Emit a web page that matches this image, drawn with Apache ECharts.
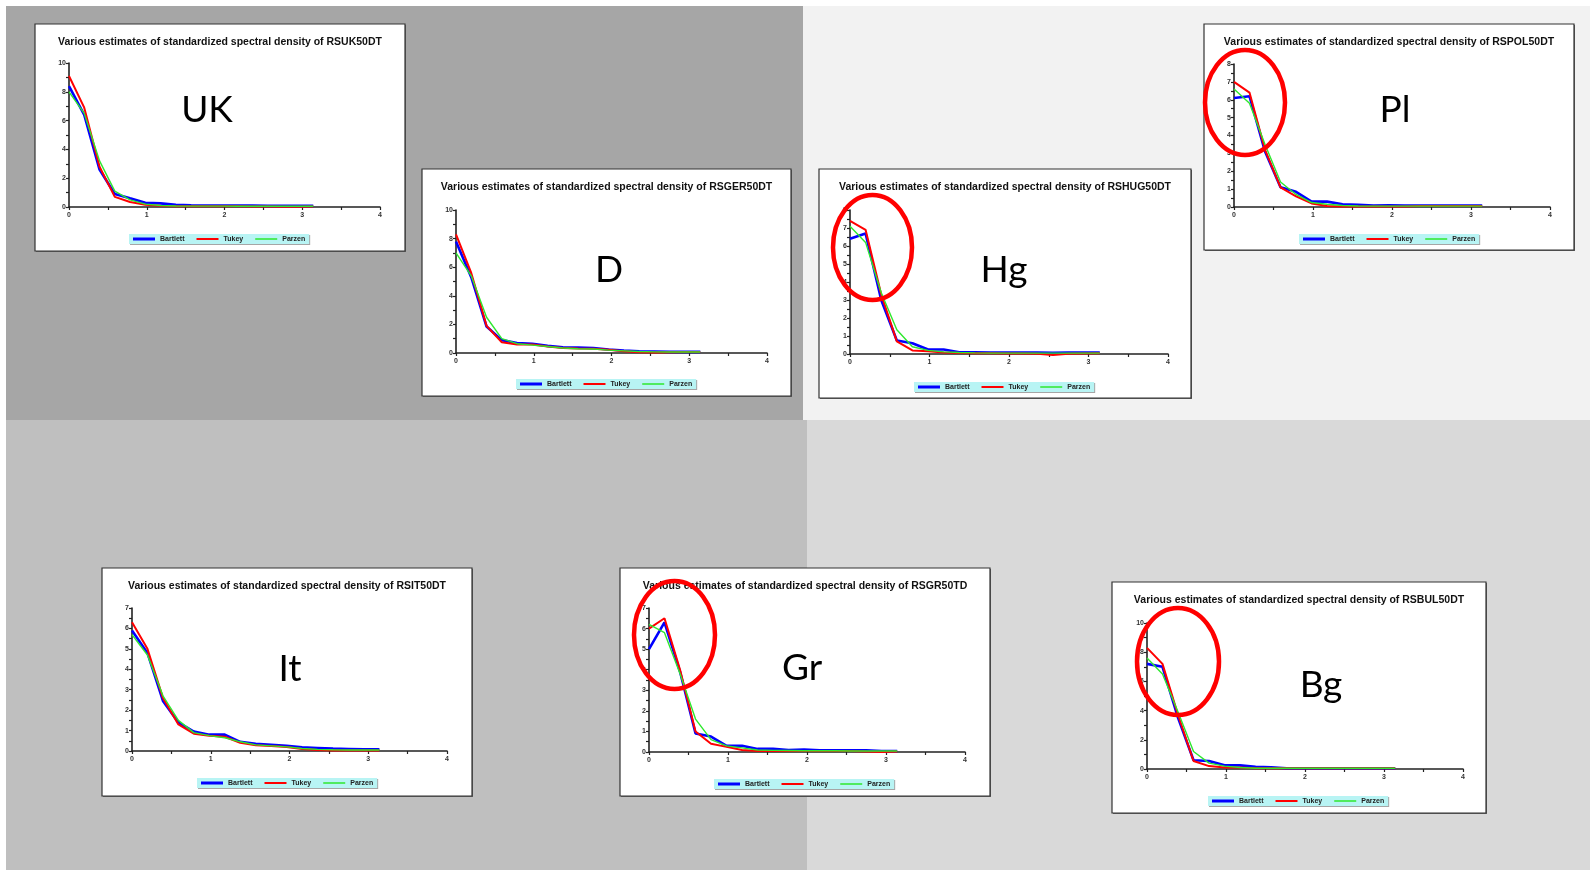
<!DOCTYPE html>
<html>
<head>
<meta charset="utf-8">
<script src="https://cdn.jsdelivr.net/npm/echarts@6/dist/echarts.min.js"></script>
<style>
html,body{margin:0;padding:0;background:#fff;}
#c{width:1590px;height:870px;}
</style>
</head>
<body>
<div id="c"></div>
<script>
// ---------- DATA ----------
var freq = [0, 0.196, 0.393, 0.589, 0.785, 0.982, 1.178, 1.374, 1.571, 1.767, 1.963, 2.160, 2.356, 2.553, 2.749, 2.945, 3.142];
var seriesNames = ['Bartlett', 'Tukey', 'Parzen'];
var xTicks = [0, 1, 2, 3, 4];

var ukBartlett = [8.4, 6.4, 2.6, 0.9, 0.6, 0.3, 0.25, 0.15, 0.12, 0.1, 0.1, 0.1, 0.1, 0.08, 0.08, 0.08, 0.08];
var ukTukey    = [9.1, 6.9, 2.8, 0.7, 0.35, 0.15, 0.08, 0.06, 0.05, 0.05, 0.05, 0.05, 0.04, 0.03, 0.02, 0.02, 0.03];
var ukParzen   = [8.0, 6.5, 3.2, 1.1, 0.5, 0.2, 0.1, 0.07, 0.06, 0.06, 0.06, 0.05, 0.05, 0.05, 0.05, 0.05, 0.05];

var deBartlett = [7.8, 5.3, 1.85, 0.9, 0.7, 0.65, 0.5, 0.4, 0.38, 0.35, 0.25, 0.18, 0.12, 0.1, 0.08, 0.08, 0.08];
var deTukey    = [8.3, 5.6, 1.9, 0.75, 0.6, 0.6, 0.45, 0.35, 0.32, 0.3, 0.22, 0.12, 0.05, 0.03, 0.05, 0.07, 0.07];
var deParzen   = [7.0, 5.4, 2.5, 1.0, 0.65, 0.55, 0.45, 0.35, 0.3, 0.28, 0.2, 0.15, 0.1, 0.08, 0.07, 0.07, 0.07];

var huBartlett = [6.4, 6.7, 3.0, 0.75, 0.6, 0.25, 0.25, 0.1, 0.1, 0.08, 0.08, 0.08, 0.08, 0.06, 0.08, 0.08, 0.08];
var huTukey    = [7.4, 6.9, 3.3, 0.7, 0.2, 0.15, 0.08, 0.05, 0.04, 0.04, 0.03, 0.03, 0.02, -0.05, 0.02, 0.03, 0.04];
var huParzen   = [7.1, 6.2, 3.4, 1.35, 0.4, 0.2, 0.12, 0.08, 0.06, 0.05, 0.05, 0.05, 0.05, 0.05, 0.05, 0.05, 0.05];

var plBartlett = [6.1, 6.2, 3.1, 1.1, 0.85, 0.3, 0.3, 0.15, 0.12, 0.08, 0.1, 0.08, 0.08, 0.08, 0.08, 0.08, 0.08];
var plTukey    = [7.0, 6.4, 3.2, 1.1, 0.6, 0.2, 0.05, 0.03, 0.03, 0.03, 0.03, 0.03, 0.05, 0.06, 0.06, 0.06, 0.06];
var plParzen   = [6.6, 5.8, 3.5, 1.4, 0.7, 0.25, 0.15, 0.08, 0.06, 0.05, 0.05, 0.05, 0.05, 0.05, 0.05, 0.05, 0.05];

var itBartlett = [5.9, 4.8, 2.45, 1.4, 0.95, 0.8, 0.8, 0.45, 0.35, 0.3, 0.25, 0.18, 0.15, 0.12, 0.1, 0.08, 0.08];
var itTukey    = [6.3, 5.0, 2.6, 1.3, 0.85, 0.75, 0.7, 0.4, 0.28, 0.25, 0.2, 0.1, 0.05, 0.03, 0.03, 0.03, 0.03];
var itParzen   = [5.7, 4.7, 2.7, 1.5, 0.9, 0.75, 0.65, 0.45, 0.3, 0.25, 0.2, 0.12, 0.08, 0.06, 0.05, 0.05, 0.05];

var grBartlett = [5.0, 6.3, 3.9, 0.9, 0.75, 0.3, 0.3, 0.15, 0.15, 0.1, 0.12, 0.08, 0.08, 0.08, 0.08, 0.05, 0.05];
var grTukey    = [6.0, 6.5, 4.0, 1.0, 0.4, 0.25, 0.1, 0.05, 0.05, 0.05, 0.05, 0.05, 0.05, 0.05, 0.02, 0.0, 0.02];
var grParzen   = [6.2, 5.8, 3.8, 1.6, 0.6, 0.3, 0.2, 0.1, 0.08, 0.07, 0.06, 0.06, 0.06, 0.05, 0.05, 0.05, 0.05];

var bgBartlett = [7.2, 7.0, 3.5, 0.6, 0.55, 0.25, 0.25, 0.15, 0.12, 0.05, 0.05, 0.05, 0.05, 0.05, 0.05, 0.05, 0.05];
var bgTukey    = [8.3, 7.2, 3.7, 0.55, 0.2, 0.1, 0.1, 0.05, 0.05, 0.05, 0.05, 0.05, 0.05, 0.05, 0.05, 0.05, 0.05];
var bgParzen   = [7.6, 6.5, 3.9, 1.2, 0.4, 0.2, 0.1, 0.05, 0.05, 0.05, 0.05, 0.05, 0.05, 0.05, 0.05, 0.05, 0.05];

var titles = ['RSUK50DT', 'RSGER50DT', 'RSHUG50DT', 'RSPOL50DT', 'RSIT50DT', 'RSGR50TD', 'RSBUL50DT'];
var countryLabels = ['UK', 'D', 'Hg', 'Pl', 'It', 'Gr', 'Bg'];
var yMax = [10, 10, 8, 8, 7, 7, 10];
var yStep = [2, 2, 1, 1, 1, 1, 2];
var values = [
  [ukBartlett, ukTukey, ukParzen],
  [deBartlett, deTukey, deParzen],
  [huBartlett, huTukey, huParzen],
  [plBartlett, plTukey, plParzen],
  [itBartlett, itTukey, itParzen],
  [grBartlett, grTukey, grParzen],
  [bgBartlett, bgTukey, bgParzen]
];

// ---------- LAYOUT ----------
var panels = [
  {box: [35, 24, 370, 227],  plot: [69, 63, 380, 207],    legend: [129, 234],  label: [207, 108],  ellipse: null},
  {box: [422, 169, 369, 227], plot: [456, 210, 767, 353],  legend: [516, 379],  label: [609, 268],  ellipse: null},
  {box: [819, 169, 372, 229], plot: [850, 210, 1168, 354], legend: [914, 382],  label: [1004, 268], ellipse: [872.5, 247.5, 39.5, 52.5]},
  {box: [1204, 24, 370, 226], plot: [1234, 64, 1550, 207], legend: [1299, 234], label: [1395, 108], ellipse: [1245, 102.5, 40, 52.5]},
  {box: [102, 568, 370, 228], plot: [132, 608, 447, 751],  legend: [197, 778],  label: [290, 667],  ellipse: null},
  {box: [620, 568, 370, 228], plot: [649, 608, 965, 752],  legend: [714, 779],  label: [802, 666],  ellipse: [674.5, 635, 40.5, 54]},
  {box: [1112, 582, 374, 231], plot: [1147, 623, 1463, 769], legend: [1208, 796], label: [1321, 683], ellipse: [1178, 661.5, 41, 53.5]}
];
var colors = ['#0000ff', '#ff0000', '#2ee82e'];
var widths = [2.6, 2, 1.4];
// legend line icons (bbox 22x8, bar of given thickness centred)
var legendIcons = [
  'path://M0,0L0.01,0L0.01,0.01ZM0,8L0.01,8L0.01,7.99ZM0,2.5L22,2.5L22,5.5L0,5.5Z',
  'path://M0,0L0.01,0L0.01,0.01ZM0,8L0.01,8L0.01,7.99ZM0,3L22,3L22,5L0,5Z',
  'path://M0,0L0.01,0L0.01,0.01ZM0,8L0.01,8L0.01,7.99ZM0,3.3L22,3.3L22,4.7L0,4.7Z'
];
var W = 1590, H = 870;

var graphics = [
  {type: 'rect', shape: {x: 6, y: 6, width: 797, height: 414}, style: {fill: '#a6a6a6'}, z: -100},
  {type: 'rect', shape: {x: 803, y: 6, width: 787, height: 414}, style: {fill: '#f2f2f2'}, z: -100},
  {type: 'rect', shape: {x: 6, y: 420, width: 801, height: 450}, style: {fill: '#bfbfbf'}, z: -100},
  {type: 'rect', shape: {x: 807, y: 420, width: 783, height: 450}, style: {fill: '#d9d9d9'}, z: -100}
];
var grids = [], xAxes = [], yAxes = [], series = [], legends = [];

panels.forEach(function (p, i) {
  var b = p.box;
  graphics.push({type: 'rect', shape: {x: b[0] + 1, y: b[1] + 1, width: b[2], height: b[3]}, style: {fill: '#666'}, z: -60});
  graphics.push({type: 'rect', shape: {x: b[0], y: b[1], width: b[2], height: b[3]}, style: {fill: '#ffffff', stroke: '#333', lineWidth: 1.2}, z: -50});
  graphics.push({type: 'text', x: b[0] + b[2] / 2, y: b[1] + 18, z: 5,
    style: {text: 'Various estimates of standardized spectral density of ' + titles[i], fill: '#111',
      fontSize: 10.5, fontWeight: 'bold', fontFamily: 'Liberation Sans, Arial, sans-serif', align: 'center', verticalAlign: 'middle'}});
  graphics.push({type: 'text', x: p.label[0], y: p.label[1] + 2, z: 5,
    style: {text: countryLabels[i], fill: '#000', fontSize: 37, fontFamily: 'Lato, sans-serif', align: 'center', verticalAlign: 'middle'}});
  if (p.ellipse) {
    graphics.push({type: 'ellipse', shape: {cx: p.ellipse[0], cy: p.ellipse[1], rx: p.ellipse[2], ry: p.ellipse[3]}, z: 100,
      style: {fill: 'none', stroke: '#ff0000', lineWidth: 4.5}});
  }
  var q = p.plot;
  grids.push({left: q[0], top: q[1], width: q[2] - q[0], height: q[3] - q[1], containLabel: false});
  var axisCommon = {
    axisLine: {show: true, onZero: false, lineStyle: {color: '#222', width: 1.6}},
    axisTick: {show: true, length: 3, lineStyle: {color: '#222', width: 1.2}},
    minorTick: {show: true, splitNumber: 2, length: 3, lineStyle: {color: '#222', width: 1.2}},
    splitLine: {show: false},
    axisLabel: {fontSize: 7, fontWeight: 'bold', color: '#333', fontFamily: 'Liberation Sans, Arial, sans-serif'}
  };
  xAxes.push(Object.assign({}, axisCommon, {type: 'value', gridIndex: i, min: xTicks[0], max: xTicks[xTicks.length - 1], interval: 1,
    axisLabel: Object.assign({}, axisCommon.axisLabel, {margin: 5})}));
  yAxes.push(Object.assign({}, axisCommon, {type: 'value', gridIndex: i, min: 0, max: yMax[i], interval: yStep[i],
    axisLabel: Object.assign({}, axisCommon.axisLabel, {margin: 3})}));
  values[i].forEach(function (vals, s) {
    series.push({
      type: 'line', name: seriesNames[s], xAxisIndex: i, yAxisIndex: i,
      data: vals.map(function (v, k) { return [freq[k], v]; }),
      symbol: 'none', showSymbol: false, clip: false,
      lineStyle: {color: colors[s], width: widths[s]}, itemStyle: {color: colors[s]},
      z: 2 + s
    });
  });
  legends.push({
    left: p.legend[0], top: p.legend[1], orient: 'horizontal',
    data: seriesNames.map(function (n, s) { return {name: n, icon: legendIcons[s], itemStyle: {color: colors[s]}}; }),
    backgroundColor: '#b8f4f4', padding: [1, 4], itemGap: 12, itemWidth: 22, itemHeight: 8,
    shadowColor: 'rgba(0,0,0,0.35)', shadowOffsetX: 1, shadowOffsetY: 1, shadowBlur: 0,
    selectedMode: false,
    textStyle: {fontSize: 7, fontWeight: 'bold', color: '#222', fontFamily: 'Liberation Sans, Arial, sans-serif', padding: [0, 0, 0, 0]}
  });
});

var chart = echarts.init(document.getElementById('c'), null, {renderer: 'canvas', width: W, height: H});
chart.setOption({
  animation: false,
  backgroundColor: '#ffffff',
  graphic: {elements: graphics},
  grid: grids,
  xAxis: xAxes,
  yAxis: yAxes,
  legend: legends,
  series: series
});
</script>
</body>
</html>
